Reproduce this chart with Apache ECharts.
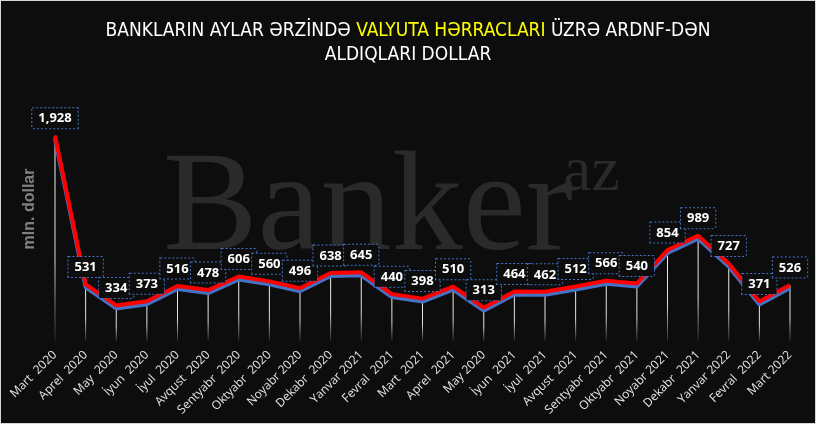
<!DOCTYPE html>
<html>
<head>
<meta charset="utf-8">
<script src="https://cdn.jsdelivr.net/npm/echarts@6/dist/echarts.min.js"></script>
<style>
html,body{margin:0;padding:0;background:#0d0d0d;}
#c{width:814px;height:422px;border:1px solid #d4d4d4;background:#0d0d0d;}
</style>
</head>
<body>
<div id="c"></div>
<script>
const categories = ['Mart  2020','Aprel  2020','May  2020','İyun  2020','İyul  2020','Avqust  2020','Sentyabr  2020','Oktyabr  2020','Noyabr 2020','Dekabr  2020','Yanvar 2021','Fevral  2021','Mart  2021','Aprel  2021','May 2020','İyun  2021','İyul  2021','Avqust  2021','Sentyabr  2021','Oktyabr  2021','Noyabr 2021','Dekabr  2021','Yanvar 2022','Fevral  2022','Mart 2022'];
const values = [1928,531,334,373,516,478,606,560,496,638,645,440,398,510,313,464,462,512,566,540,854,989,727,371,526];
const yAxisName = 'mln. dollar';
const titleLine1a = 'BANKLARIN AYLAR ƏRZİNDƏ ';
const titleLine1b = 'VALYUTA HƏRRACLARI';
const titleLine1c = ' ÜZRƏ ARDNF-DƏN';
const titleLine2 = 'ALDIQLARI DOLLAR';

const chart = echarts.init(document.getElementById('c'), null, {renderer:'canvas'});
const titleFont = '"Liberation Sans Narrow","DejaVu Sans Condensed","Noto Sans",sans-serif';
chart.setOption({
  backgroundColor:'#0d0d0d',
  animation:false,
  graphic:[
    {type:'text', x:407, y:18, z:10, style:{
      text:'{w|'+titleLine1a+'}{y|'+titleLine1b+'}{w|'+titleLine1c+'}\n{w|'+titleLine2+'}',
      align:'center', verticalAlign:'top',
      rich:{
        w:{fill:'#ffffff', fontSize:19, fontFamily:titleFont, lineHeight:24},
        y:{fill:'#ffff00', fontSize:19, fontFamily:titleFont, lineHeight:24}
      }
    }},
    {type:'text', left:162, top:140, z:-10, style:{text:'Banker', fill:'#2a2a2a', font:'142px "Liberation Serif","DejaVu Serif",serif'}},
    {type:'text', left:562, top:140, z:-10, style:{text:'az', fill:'#2a2a2a', font:'64px "Liberation Serif","DejaVu Serif",serif'}},
    {type:'text', x:29, y:208, rotation:Math.PI/2, style:{text:yAxisName, fill:'#808080', font:'bold 16px "Liberation Sans","Noto Sans",sans-serif', align:'center', verticalAlign:'middle'}}
  ],
  grid:{left:54, right:25, top:127, bottom:82, containLabel:false},
  xAxis:{
    type:'category', data:categories, boundaryGap:false,
    axisLine:{show:false}, axisTick:{show:false}, splitLine:{show:false},
    axisLabel:{interval:0, rotate:45, margin:12, color:'#e6e6e6', fontSize:12, fontFamily:'"Open Sans","Noto Sans",sans-serif'}
  },
  yAxis:{
    type:'value', min:0, max:2000,
    axisLine:{show:false}, axisTick:{show:false}, axisLabel:{show:false}, splitLine:{show:false}
  },
  series:[
    {
      type:'bar', data:values, barWidth:1, silent:true, z:1,
      itemStyle:{color:new echarts.graphic.LinearGradient(0,0,0,1,[
        {offset:0,color:'rgba(255,255,255,0.95)'},
        {offset:0.6,color:'rgba(255,255,255,0.85)'},
        {offset:1,color:'rgba(255,255,255,0.1)'}
      ])}
    },
    {
      type:'line', data:values, z:3,
      symbol:'circle', symbolSize:1, itemStyle:{color:'rgba(0,0,0,0)'},
      lineStyle:{color:'#ff0000', width:4, shadowColor:'#4472c4', shadowOffsetY:3, shadowOffsetX:0, shadowBlur:0},
      label:{
        show:true, position:'top', distance:7,
        formatter:p=>p.value.toLocaleString('en-US'),
        color:'#ffffff', fontWeight:'bold', fontSize:13,
        fontFamily:'"Open Sans","Liberation Sans",sans-serif',
        backgroundColor:'#0d0d0d', borderColor:'#4472c4', borderType:'dotted', borderWidth:1,
        padding:[4,6,3,6]
      }
    }
  ]
});
</script>
</body>
</html>
